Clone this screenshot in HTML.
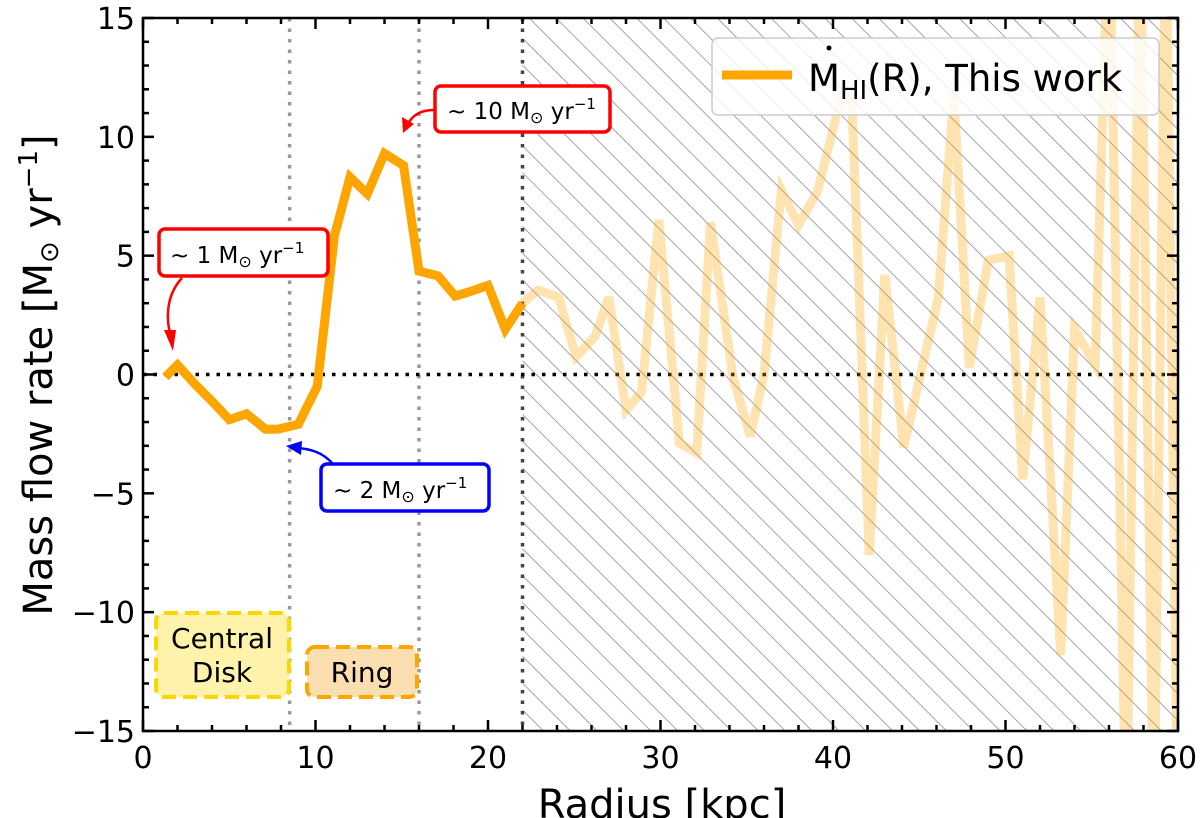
<!DOCTYPE html>
<html><head><meta charset="utf-8"><style>
body{margin:0;background:#fff}
svg{display:block;font-family:"DejaVu Sans","Liberation Sans",sans-serif}
</style></head><body>
<svg id="chart" width="1200" height="818" viewBox="0 0 1200 818">
<defs>
<clipPath id="plotclip"><rect x="143" y="18" width="1035" height="713"/></clipPath>
<pattern id="hatch" patternUnits="userSpaceOnUse" width="19" height="19" patternTransform="rotate(-45)">
<line x1="0" y1="0" x2="0" y2="19" stroke="#888" stroke-width="1.5"/>
</pattern>
</defs>
<g id="plot" clip-path="url(#plotclip)"></g>
<g id="axes"></g>
</svg>
<script>
const radiusInner=[1.3,2,3,4.1,5,6,7.1,7.8,9,10.1,11.1,12,13,14,15.1,16,17.1,18.1,19,20,21,22];
const flowInner=[-0.1,0.4,-0.4,-1.2,-1.9,-1.65,-2.3,-2.3,-2.1,-0.5,5.85,8.3,7.6,9.3,8.8,4.35,4.15,3.3,3.5,3.75,1.9,3.0];
const radiusOuter=[22,22.9,24.1,25.1,26.2,27,28,28.9,29.9,31.1,32.1,32.9,34.2,35.2,36,37,38,39.1,40.2,40.7,41.1,42.1,43,44.1,46.1,47,47.9,49,50.2,51,52,53.2,54,55.2,56,57,57.8,58.6,59.3,60];
const flowOuter=[3.0,3.55,3.25,0.75,1.6,3.25,-1.5,-0.75,6.5,-2.9,-3.3,6.4,-0.1,-2.6,0,7.75,6.3,7.7,10.9,12,11.3,-7.6,4.2,-3.05,3.2,11.8,0.3,4.8,5,-4.4,3.25,-11.8,1.9,0.4,20,-20,20,-20,20,-20];
const xTicks=[0,10,20,30,40,50,60];
const yTicks=[-15,-10,-5,0,5,10,15];

const NS="http://www.w3.org/2000/svg";
const X0=143,X1=1178,Y0=731,Y1=18;
function xs(r){return X0+(r-0)/(60-0)*(X1-X0);}
function ys(v){return Y0-(v+15)/30*(Y0-Y1);}
function mk(tag,attrs,parent,text){const e=document.createElementNS(NS,tag);for(const k in attrs)e.setAttribute(k,attrs[k]);if(text!==undefined)e.textContent=text;parent.appendChild(e);return e;}
const plot=document.getElementById('plot'),axes=document.getElementById('axes');

let h=mk('rect',{x:xs(22),y:Y1,width:X1-xs(22),height:Y0-Y1,fill:'url(#hatch)'},plot);


[[8.5,'#999','disk-boundary-line'],[16,'#999','ring-boundary-line'],[22,'#444','hatch-boundary-line']].forEach(d=>{
 let l=mk('line',{x1:xs(d[0]),x2:xs(d[0]),y1:Y1,y2:Y0,stroke:d[1],'stroke-width':3.5,'stroke-dasharray':'3.5,7'},plot);
 
 
});
let z=mk('line',{x1:X0,x2:X1,y1:ys(0),y2:ys(0),stroke:'#000','stroke-width':3.5,'stroke-dasharray':'3.5,7'},plot);


function pts(rs,vs){return rs.map((r,i)=>xs(r).toFixed(1)+','+ys(vs[i]).toFixed(1)).join(' ');}
let lo=mk('polyline',{points:pts(radiusOuter,flowOuter),fill:'none',stroke:'#FFA500','stroke-opacity':0.3,'stroke-width':9,'stroke-linejoin':'miter'},plot);


let li=mk('polyline',{points:pts(radiusInner,flowInner),fill:'none',stroke:'#FFA500','stroke-width':9,'stroke-linejoin':'miter'},plot);



let fr=mk('rect',{x:X0,y:Y1,width:X1-X0,height:Y0-Y1,fill:'none',stroke:'#000','stroke-width':2.5},axes);


for(let r=0;r<=60;r+=2){const maj=r%10===0,L=maj?11:6;
 mk('line',{x1:xs(r),x2:xs(r),y1:Y0,y2:Y0-L,stroke:'#000','stroke-width':2.5},axes);
 mk('line',{x1:xs(r),x2:xs(r),y1:Y1,y2:Y1+L,stroke:'#000','stroke-width':2.5},axes);}
for(let v=-15;v<=15;v+=1){const maj=v%5===0,L=maj?11:6;
 mk('line',{x1:X0,x2:X0+L,y1:ys(v),y2:ys(v),stroke:'#000','stroke-width':2.5},axes);
 mk('line',{x1:X1,x2:X1-L,y1:ys(v),y2:ys(v),stroke:'#000','stroke-width':2.5},axes);}
xTicks.forEach(t=>{let e=mk('text',{x:xs(t),y:768,'font-size':30,'text-anchor':'middle'},axes,String(t));
 
 });
yTicks.forEach(t=>{let e=mk('text',{x:135,y:ys(t)+11,'font-size':30,'text-anchor':'end'},axes,t<0?'\u2212'+(-t):String(t));
 
 });
</script>
<svg width="1200" height="818" style="position:absolute;left:0;top:0;font-family:'DejaVu Sans','Liberation Sans',sans-serif">
<text x="662" y="818" font-size="40" text-anchor="middle">Radius [kpc]</text>
<text transform="translate(52,375) rotate(-90)" font-size="40" text-anchor="middle">Mass flow rate [M<tspan font-size="26" dy="6">⊙</tspan><tspan dy="-6"> yr</tspan><tspan font-size="26" dy="-15">−1</tspan><tspan dy="15">]</tspan></text>
<g>
<rect x="712" y="38" width="447" height="77" rx="6" fill="#fff" fill-opacity="0.8" stroke="#ccc" stroke-width="1.5"/>
<line x1="722" y1="75" x2="792" y2="75" stroke="#FFA500" stroke-width="9"/>
<text x="808" y="91" font-size="37">M<tspan font-size="26" dy="8">HI</tspan><tspan dy="-8">(R), This work</tspan></text>
<circle cx="829" cy="48" r="2.5" fill="#000"/>
</g>
<g>
<rect x="159" y="229" width="169" height="47" rx="6" fill="#fff" stroke="red" stroke-width="3.5"/>
<text x="170" y="263" font-size="23">~ 1 M<tspan font-size="16" dy="4">⊙</tspan><tspan dy="-4"> yr</tspan><tspan font-size="15" dy="-10">−1</tspan></text>
<path d="M182,278 C166,295 165,320 172,340" fill="none" stroke="red" stroke-width="2.5"/>
<polygon points="164,330 176,330 173,351" fill="red"/>
</g>
<g>
<rect x="435" y="86" width="175" height="46" rx="6" fill="#fff" stroke="red" stroke-width="3.5"/>
<text x="447" y="119" font-size="23">~ 10 M<tspan font-size="16" dy="4">⊙</tspan><tspan dy="-4"> yr</tspan><tspan font-size="15" dy="-10">−1</tspan></text>
<path d="M434,110 C420,110 412,116 408,124" fill="none" stroke="red" stroke-width="2.5"/>
<polygon points="402,117 414,124 403,133" fill="red"/>
</g>
<g>
<rect x="321" y="464" width="168" height="47" rx="6" fill="#fff" stroke="blue" stroke-width="3.5"/>
<text x="333" y="498" font-size="23">~ 2 M<tspan font-size="16" dy="4">⊙</tspan><tspan dy="-4"> yr</tspan><tspan font-size="15" dy="-10">−1</tspan></text>
<path d="M332,463 C322,452 310,449 298,448" fill="none" stroke="blue" stroke-width="2.5"/>
<polygon points="286,446 302,441 301,455" fill="blue"/>
</g>
<g>
<rect x="156" y="613" width="133" height="84" rx="8" fill="#FFF2AA" stroke="#FFD700" stroke-width="4" stroke-dasharray="14,7"/>
<text x="222" y="648" font-size="28" text-anchor="middle">Central</text>
<text x="222" y="682" font-size="28" text-anchor="middle">Disk</text>
</g>
<g>
<rect x="307" y="647" width="110" height="50" rx="8" fill="#FCDFB0" stroke="#FFA500" stroke-width="4" stroke-dasharray="14,7"/>
<text x="362" y="682" font-size="28" text-anchor="middle">Ring</text>
</g>
</svg>
</body></html>
